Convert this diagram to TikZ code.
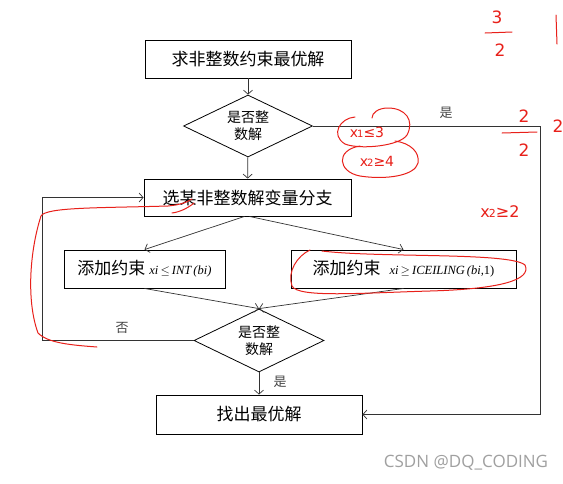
\documentclass[tikz,border=0pt]{standalone}
\usepackage{fontspec}
\setmainfont{Liberation Serif}
\newfontfamily\cjk{Noto Sans CJK SC}
\newfontfamily\wmfont{Open Sans}
\newfontfamily\handfont{DejaVu Sans}
\usetikzlibrary{arrows.meta,shapes.geometric}
\definecolor{lin}{HTML}{333333}
\definecolor{lab}{HTML}{444444}
\definecolor{wm}{HTML}{A0A0A0}
\definecolor{pen}{HTML}{E8201A}
\begin{document}
\begin{tikzpicture}[x=1pt,y=-1pt,
  boxn/.style={draw=black, line width=0.9pt, inner sep=0pt, font=\cjk\fontsize{17}{19}\selectfont},
  dia/.style={draw=black, line width=0.8pt, diamond, aspect=2, inner sep=0pt, align=center, font=\cjk\fontsize{14}{17}\selectfont},
  arr/.style={draw=lin, line width=0.7pt, -{Straight Barb[length=4pt,width=9pt]}},
  lbl/.style={text=lab, font=\cjk\fontsize{13}{14}\selectfont},
  redpen/.style={draw=pen, line width=1pt, line cap=round, line join=round},
  redtxt/.style={text=pen, font=\handfont\fontsize{14}{14}\selectfont}
]
\useasboundingbox (0,0) rectangle (563,483);
\fill[white] (0,0) rectangle (563,483);

% main nodes
\node[boxn, minimum width=206pt, minimum height=38pt] (b1) at (248,59) {求非整数约束最优解};
\node[dia, minimum width=129pt, minimum height=62pt] (d1) at (248,126) {是否整\\数解};
\node[boxn, minimum width=207pt, minimum height=37pt] (b2) at (247.5,197.5) {选某非整数解变量分支};
\node[boxn, minimum width=161pt, minimum height=38pt] (b3) at (144.5,269) {添加约束\hspace{4pt}{\rmfamily\fontsize{12.5}{12}\selectfont\itshape xi\,$\leq$\,INT\,(bi)}};
\node[boxn, minimum width=225pt, minimum height=38pt] (b4) at (403.5,269) {添加约束\hspace{9pt}{\rmfamily\fontsize{12.5}{12}\selectfont\itshape xi\,$\geq$\,ICEILING\,(bi,\upshape 1)}};
\node[dia, minimum width=130pt, minimum height=63pt] (d2) at (259,340.5) {是否整\\数解};
\node[boxn, minimum width=206pt, minimum height=39pt] (b5) at (259,414.5) {找出最优解};

% helper coordinates
\coordinate (tr) at (540,126);
\coordinate (br) at (540,414.5);
\coordinate (bl) at (42,340.5);
\coordinate (tl) at (42,197.5);

% connectors
\draw[arr] (b1) -- (d1);
\draw[arr] (d1) -- (b2);
\draw[arr] (d1.east) -- (tr) -- (br) -- (b5.east);
\draw[arr] ([xshift=-3pt]b2.south) -- (b3.north);
\draw[arr] ([xshift=2pt]b2.south) -- (b4.north);
\draw[arr] (b3.south) -- (d2.north);
\draw[arr] (b4.south) -- (d2.north);
\draw[arr] (d2) -- (b5);
\draw[arr] (d2.west) -- (bl) -- (tl) -- (b2.west);

% labels
\node[lbl] (l1) at (446,113) {是};
\node[lbl] (l2) at (122,328) {否};
\node[lbl] (l3) at (280,382) {是};

% watermark
\node[text=wm, font=\wmfont\fontsize{17}{18}\selectfont] (w) at (466,463) {CSDN @DQ\_CODING};

% red handwritten annotations
\draw[redpen] (97,347) .. controls (70,345) and (48,343) .. (38,333)
  .. controls (26,300) and (30,250) .. (41,216)
  .. controls (46,207) and (100,208) .. (168,206)
  .. controls (178,205) and (186,203) .. (192,199);
\draw[redpen] (172,213) .. controls (180,212) and (188,208) .. (194,203);
\draw[redpen] (322,251) .. controls (380,258) and (510,252) .. (525,265)
  .. controls (532,280) and (500,289) .. (430,291)
  .. controls (360,293) and (298,298) .. (292,286)
  .. controls (287,272) and (297,256) .. (310,250);
\draw[redpen] (355,117) .. controls (340,118) and (330,135) .. (345,144)
  .. controls (360,150) and (400,146) .. (407,135)
  .. controls (415,120) and (405,108) .. (388,108)
  .. controls (378,108) and (372,113) .. (372,118);
\draw[redpen] (360,146) .. controls (335,150) and (338,172) .. (360,176)
  .. controls (385,180) and (415,176) .. (418,163)
  .. controls (420,152) and (410,143) .. (395,141);
\node[redtxt] (h1) at (367,132) {x\kern-1pt{\fontsize{10}{10}\selectfont 1}≤3};
\node[redtxt] (h2) at (377,161) {x\kern-1pt{\fontsize{10}{10}\selectfont 2}≥4};
% fractions top right
\node[redtxt, font=\handfont\fontsize{17}{17}\selectfont] (f1n) at (497,17) {3};
\draw[redpen] (485,33) -- (512,32);
\node[redtxt, font=\handfont\fontsize{17}{17}\selectfont] (f1d) at (500,50) {2};
\draw[redpen] (556,15) -- (557,44);
\node[redtxt, font=\handfont\fontsize{17}{17}\selectfont] (f2n) at (524,116) {2};
\draw[redpen] (502,133) -- (537,132);
\node[redtxt, font=\handfont\fontsize{17}{17}\selectfont] (f2d) at (524,150) {2};
\node[redtxt, font=\handfont\fontsize{17}{17}\selectfont] (f3) at (558,126) {2};
\node[redtxt, font=\handfont\fontsize{16}{16}\selectfont] (h3) at (500,212) {x\kern-1pt{\fontsize{11}{11}\selectfont 2}≥2};
\end{tikzpicture}
\end{document}
